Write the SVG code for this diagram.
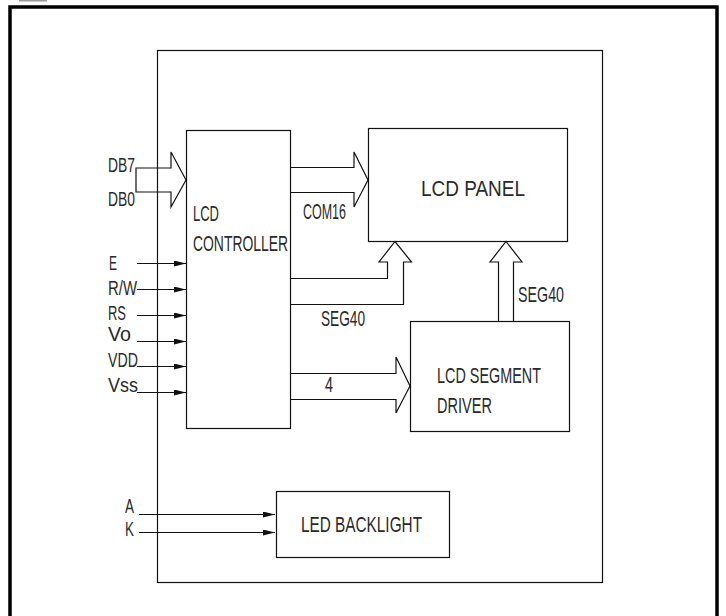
<svg xmlns="http://www.w3.org/2000/svg" width="726" height="616" viewBox="0 0 726 616">
<style>
.box{fill:none;stroke:#111;stroke-width:1.2}
.ln{fill:none;stroke:#111;stroke-width:1.2}
.bus{fill:none;stroke:#111;stroke-width:1.2;stroke-linejoin:miter}
text{font-family:"Liberation Sans",Arial,sans-serif;font-size:22px;fill:#2a2a2a}
.sm{font-size:20px}
</style>
<defs>
<marker id="ah" markerWidth="12" markerHeight="6" refX="12" refY="3" orient="auto" markerUnits="userSpaceOnUse">
<path d="M0,0 L12,3 L0,6 Z" fill="#111"/>
</marker>
</defs>
<rect x="0" y="0" width="726" height="616" fill="#fff"/>
<g id="frame">
<rect x="19" y="0" width="28" height="1.5" fill="#999"/>
<path d="M10,616 V7 H717 V616" fill="none" stroke="#000" stroke-width="3.5"/>
<rect class="box" x="157.5" y="50.5" width="445" height="532"/>
</g>
<g id="controller">
<rect class="box" x="186.5" y="130.5" width="104" height="298"/>
<text x="193" y="221" textLength="26" lengthAdjust="spacingAndGlyphs">LCD</text>
<text x="193" y="251" textLength="95" lengthAdjust="spacingAndGlyphs">CONTROLLER</text>
</g>
<g id="panel">
<rect class="box" x="368.5" y="128.5" width="199" height="113"/>
<text x="421" y="196" textLength="104" lengthAdjust="spacingAndGlyphs">LCD PANEL</text>
</g>
<g id="driver">
<rect class="box" x="410.5" y="321.5" width="159" height="110"/>
<text x="437" y="383" textLength="104" lengthAdjust="spacingAndGlyphs">LCD SEGMENT</text>
<text x="437" y="413" textLength="55" lengthAdjust="spacingAndGlyphs">DRIVER</text>
</g>
<g id="backlight">
<rect class="box" x="276.5" y="491.5" width="173" height="66"/>
<text x="301" y="532" textLength="121" lengthAdjust="spacingAndGlyphs">LED BACKLIGHT</text>
</g>
<g id="connectors">
<path class="bus" d="M136,168 H171 V152 L186,180 L171,207 V192 H136 Z"/>
<path class="bus" d="M290,167.5 H354 V152 L368,180 L354,207 V192.5 H290"/>
<path class="bus" d="M290,278.5 H387.5 V262 H379 L395,241.5 L411.5,262 H403.5 V304.5 H290"/>
<path class="bus" d="M498.5,321 V262 H490 L506,241.5 L522,262 H513.5 V321"/>
<path class="bus" d="M290,373.5 H396 V357 L410,386 L396,413 V399.5 H290"/>
<line class="ln" x1="137" y1="263.5" x2="186" y2="263.5" marker-end="url(#ah)"/>
<line class="ln" x1="137" y1="289.5" x2="186" y2="289.5" marker-end="url(#ah)"/>
<line class="ln" x1="137" y1="315.5" x2="186" y2="315.5" marker-end="url(#ah)"/>
<line class="ln" x1="137" y1="341.5" x2="186" y2="341.5" marker-end="url(#ah)"/>
<line class="ln" x1="137" y1="366.5" x2="186" y2="366.5" marker-end="url(#ah)"/>
<line class="ln" x1="137" y1="392.5" x2="186" y2="392.5" marker-end="url(#ah)"/>
<line class="ln" x1="139" y1="514.5" x2="275" y2="514.5" marker-end="url(#ah)"/>
<line class="ln" x1="139" y1="532.5" x2="275" y2="532.5" marker-end="url(#ah)"/>
</g>
<g id="labels">
<text class="sm" x="108" y="172" textLength="27" lengthAdjust="spacingAndGlyphs">DB7</text>
<text class="sm" x="108" y="206" textLength="27" lengthAdjust="spacingAndGlyphs">DB0</text>
<text class="sm" x="109" y="270" textLength="8" lengthAdjust="spacingAndGlyphs">E</text>
<text class="sm" x="108" y="295" textLength="29" lengthAdjust="spacingAndGlyphs">R/W</text>
<text class="sm" x="108" y="320" textLength="18" lengthAdjust="spacingAndGlyphs">RS</text>
<text class="sm" x="108" y="341" textLength="23" lengthAdjust="spacingAndGlyphs">Vo</text>
<text class="sm" x="108" y="367" textLength="30" lengthAdjust="spacingAndGlyphs">VDD</text>
<text class="sm" x="108" y="392" textLength="30" lengthAdjust="spacingAndGlyphs">Vss</text>
<text x="303" y="219" textLength="43" lengthAdjust="spacingAndGlyphs">COM16</text>
<text x="321" y="326" textLength="44" lengthAdjust="spacingAndGlyphs">SEG40</text>
<text x="518" y="302" textLength="46" lengthAdjust="spacingAndGlyphs">SEG40</text>
<text x="325" y="392" textLength="8" lengthAdjust="spacingAndGlyphs">4</text>
<text class="sm" x="125" y="513" textLength="9" lengthAdjust="spacingAndGlyphs">A</text>
<text class="sm" x="125" y="536" textLength="9" lengthAdjust="spacingAndGlyphs">K</text>
</g>
</svg>
